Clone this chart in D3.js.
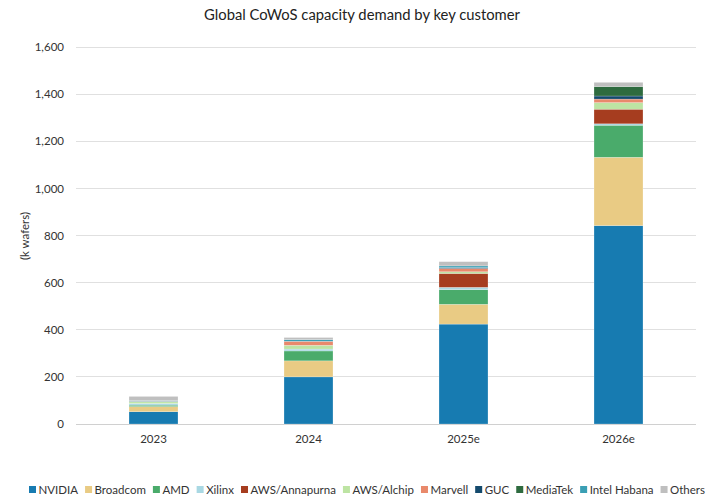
<!DOCTYPE html>
<html><head><meta charset="utf-8">
<script src="https://cdn.jsdelivr.net/npm/d3@7/dist/d3.min.js"></script>
<style>body{margin:0;background:#fff}svg{display:block}text{font-family:Lato,"Open Sans",sans-serif}</style>
</head><body><svg id="c" width="720" height="504"></svg>
<script>
const categories = ["2023","2024","2025e","2026e"];
const seriesNames = ["NVIDIA","Broadcom","AMD","Xilinx","AWS/Annapurna","AWS/Alchip","Marvell","GUC","MediaTek","Intel Habana","Others"];
const NVIDIA = [52,200,424,842];
const Broadcom = [22,68,84,290];
const AMD = [6,42,62,136];
const Xilinx = [7,8,10,6];
const AWSAnnapurna = [0,0,59,62];
const AWSAlchip = [7,16,7,28];
const Marvell = [2,17,14,15];
const GUC = [0,0,4,13];
const MediaTek = [0,0,0,40];
const IntelHabana = [3,7,7,0];
const Others = [18,9,18,18];
const yTicks = [0,200,400,600,800,1000,1200,1400,1600];
const colors = ["#177bb1","#e9cb84","#4aab6b","#a9d8e3","#a63d1f","#bde4a3","#e9896b","#144a6d","#2e6b3f","#3a9fb4","#bfbfbf"];

const seriesValues = [NVIDIA,Broadcom,AMD,Xilinx,AWSAnnapurna,AWSAlchip,Marvell,GUC,MediaTek,IntelHabana,Others];
const rows = categories.map((c,i)=>{const r={cat:c};seriesNames.forEach((s,j)=>r[s]=seriesValues[j][i]);return r;});
const stack = d3.stack().keys(seriesNames)(rows);

const svg = d3.select("#c");
const m = {l:76,r:24,t:47,b:80};
const W=720,H=504;
const x = d3.scaleBand().domain(categories).range([m.l,W-m.r]).paddingInner(0.684).paddingOuter(0.342);
const y = d3.scaleLinear().domain([0,1600]).range([424,47]);

svg.append("text").attr("x",362).attr("y",20).attr("text-anchor","middle").attr("font-size",14.8).attr("fill","#222").text("Global CoWoS capacity demand by key customer");

const grid = svg.append("g");
grid.selectAll("line").data(yTicks).join("line")
 .attr("x1",m.l).attr("x2",W-m.r).attr("y1",d=>y(d)).attr("y2",d=>y(d))
 .attr("stroke",d=>d===0?"#d0d0d0":"#e0e0e0").attr("stroke-width",1).attr("shape-rendering","crispEdges");

const yAxis = d3.axisLeft(y).tickValues(yTicks).tickSize(0).tickPadding(0).tickFormat(d3.format(","));
const ya = svg.append("g").attr("transform",`translate(64,0)`).call(yAxis);
ya.select(".domain").remove();
ya.selectAll("text").attr("font-size",11.5).attr("fill","#333").attr("font-family","Lato,'Open Sans',sans-serif");

svg.append("text").attr("transform","translate(29,236) rotate(-90)").attr("text-anchor","middle").attr("font-size",11.5).attr("fill","#333").text("(k wafers)");

const xAxis = d3.axisBottom(x).tickSize(0).tickPadding(11);
const xa = svg.append("g").attr("transform","translate(0,424)").call(xAxis);
xa.select(".domain").remove();
xa.selectAll("text").attr("font-size",11.5).attr("fill","#333").attr("font-family","Lato,'Open Sans',sans-serif");

svg.append("g").selectAll("g").data(stack).join("g").attr("fill",(d,i)=>colors[i])
 .selectAll("rect").data(d=>d).join("rect")
 .attr("x",d=>x(d.data.cat)).attr("width",x.bandwidth())
 .attr("y",d=>y(d[1])).attr("height",d=>Math.max(0,y(d[0])-y(d[1])))
 .attr("stroke","#ffffff").attr("stroke-opacity",0.45).attr("stroke-width",0.5);

// legend
const lg = svg.append("g").attr("transform","translate(0,494)");
const legendRight = 705;
const items = seriesNames.map((s,i)=>{
  const g = lg.append("g");
  g.append("rect").attr("x",0).attr("y",-8).attr("width",7).attr("height",7).attr("fill",colors[i]);
  const t = g.append("text").attr("x",9.5).attr("y",0).attr("font-size",11.5).attr("fill","#333").text(s);
  return {g, w: 9.5 + t.node().getComputedTextLength()};
});
const total = d3.sum(items,d=>d.w);
const gap = (legendRight - 29 - total)/(items.length-1);
let lx = 29;
items.forEach(it=>{ it.g.attr("transform",`translate(${lx},0)`); lx += it.w + gap; });
</script></body></html>
